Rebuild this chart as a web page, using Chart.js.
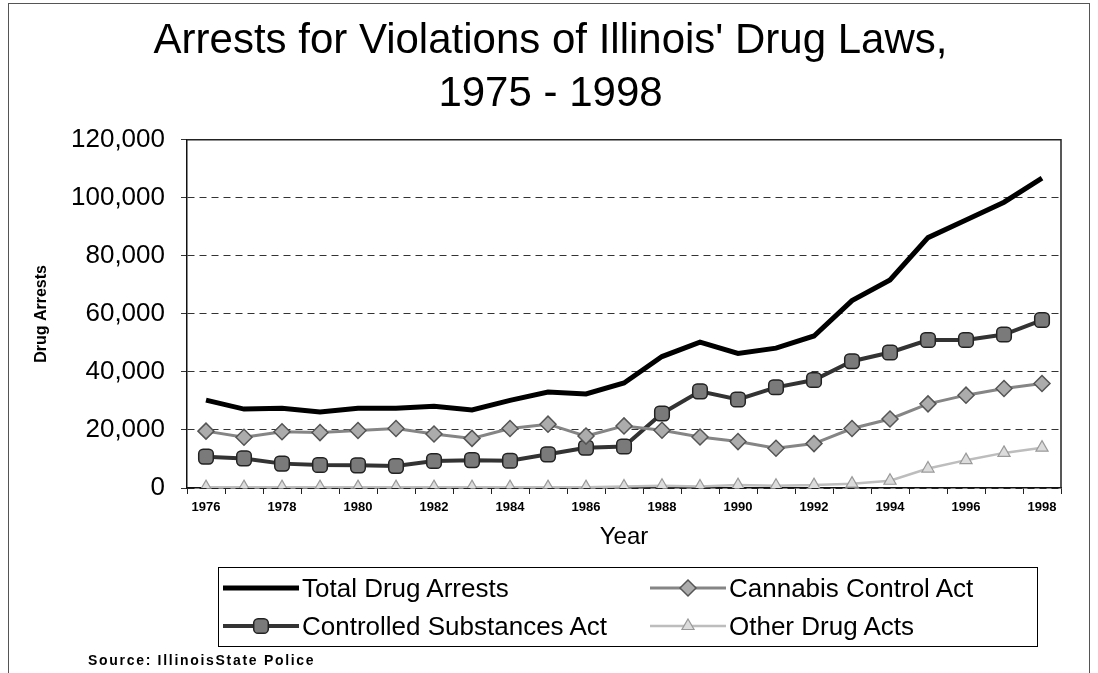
<!DOCTYPE html>
<html>
<head>
<meta charset="utf-8">
<title>Arrests for Violations of Illinois' Drug Laws</title>
<script src="https://cdn.jsdelivr.net/npm/chart.js@4.4.0/dist/chart.umd.min.js"></script>
<style>
  html, body { margin: 0; padding: 0; background: #fff; }
  body {
    width: 1098px; height: 673px; position: relative; overflow: hidden;
    font-family: "Liberation Sans", Arial, sans-serif; color: #000;
  }
  #frame {
    position: absolute; left: 8px; top: 3px; width: 1082px; height: 700px;
    border: 1px solid #555; border-bottom: none; box-sizing: border-box;
  }
  #chart { position: absolute; left: 0; top: 0; }
  #legend {
    position: absolute; left: 218px; top: 567px; width: 820px; height: 80px;
    border: 1px solid #000; box-sizing: border-box;
  }
  .item {
    position: absolute; height: 30px; display: flex; align-items: center;
    font-size: 26px; white-space: nowrap;
  }
  .item canvas { margin-right: 3px; }
  #source {
    position: absolute; left: 88px; top: 652px; font-size: 14px;
    font-weight: bold; letter-spacing: 1.7px;
  }
</style>
</head>
<body>
<div id="frame"></div>
<canvas id="chart" width="1098" height="673"></canvas>
<div id="legend"></div>
<div id="source">Source: IllinoisState Police</div>

<script>
// ========================
// DATA
// ========================
const years = ['1976', '1977', '1978', '1979', '1980', '1981', '1982', '1983',
  '1984', '1985', '1986', '1987', '1988', '1989', '1990', '1991', '1992',
  '1993', '1994', '1995', '1996', '1997', '1998'];

const totalArrests = [30300, 27200, 27500, 26200, 27500, 27500, 28200, 26900,
  30200, 33100, 32400, 36200, 45300, 50300, 46400, 48200, 52400,
  64600, 71700, 86300, 92400, 98500, 106800];

const cannabisAct = [19600, 17500, 19400, 19100, 19800, 20500, 18600, 17100,
  20500, 22000, 17900, 21400, 19900, 17600, 16000, 13700, 15300,
  20500, 23800, 29000, 32000, 34300, 36000];

const controlledAct = [10800, 10200, 8400, 7900, 7800, 7600, 9300, 9600,
  9400, 11600, 13900, 14300, 25700, 33300, 30500, 34700, 37200,
  43700, 46700, 51000, 51000, 52900, 57900];

const otherActs = [300, 300, 300, 300, 300, 300, 300, 300,
  300, 300, 300, 500, 800, 500, 1000, 800, 1000,
  1500, 2500, 6700, 9600, 12100, 13900];

const seriesNames = ['Total Drug Arrests', 'Cannabis Control Act',
  'Controlled Substances Act', 'Other Drug Acts'];

const yTicks = [0, 20000, 40000, 60000, 80000, 100000, 120000];

const FONT = '"Liberation Sans", Arial, sans-serif';

// ========================
// PLOT BORDER (top + right edges)
// ========================
const plotBorder = {
  id: 'plotBorder',
  beforeDatasetsDraw(chart) {
    const { ctx, chartArea: a } = chart;
    ctx.save();
    ctx.strokeStyle = '#222';
    ctx.lineWidth = 1.5;
    ctx.beginPath();
    ctx.moveTo(a.left, a.top);
    ctx.lineTo(a.right, a.top);
    ctx.lineTo(a.right, a.bottom);
    ctx.stroke();
    ctx.restore();
  }
};

// ========================
// CHART
// ========================
const chart = new Chart(document.getElementById('chart'), {
  type: 'line',
  data: {
    labels: years,
    datasets: [
      {
        label: seriesNames[0],
        data: totalArrests,
        borderColor: '#000',
        borderWidth: 5,
        pointRadius: 0,
        pointStyle: false
      },
      {
        label: seriesNames[1],
        data: cannabisAct,
        borderColor: '#858585',
        borderWidth: 3,
        pointStyle: 'rectRot',
        pointRadius: 8,
        pointBackgroundColor: '#acacac',
        pointBorderColor: '#555',
        pointBorderWidth: 1.5
      },
      {
        label: seriesNames[2],
        data: controlledAct,
        borderColor: '#333',
        borderWidth: 4,
        pointStyle: 'rectRounded',
        pointRadius: 8.5,
        pointBackgroundColor: '#7a7a7a',
        pointBorderColor: '#222',
        pointBorderWidth: 1.5
      },
      {
        label: seriesNames[3],
        data: otherActs,
        borderColor: '#bdbdbd',
        borderWidth: 2.5,
        pointStyle: 'triangle',
        pointRadius: 7,
        pointBackgroundColor: '#dcdcdc',
        pointBorderColor: '#9a9a9a',
        pointBorderWidth: 1.2
      }
    ]
  },
  options: {
    responsive: false,
    animation: false,
    events: [],
    // left padding only centres the title; the y axis width makes up for it
    layout: { padding: { top: 6, left: 40, right: 37, bottom: 120 } },
    plugins: {
      legend: { display: false },
      tooltip: { enabled: false },
      title: {
        display: true,
        text: ["Arrests for Violations of Illinois' Drug Laws,", '1975 - 1998'],
        color: '#000',
        font: { family: FONT, size: 42, weight: 'normal', lineHeight: 1.26 },
        padding: { top: 9, bottom: 19 }
      }
    },
    scales: {
      x: {
        type: 'category',
        offset: true,
        afterFit: s => { s.height = 65; },
        grid: {
          display: true,
          offset: true,
          drawOnChartArea: false,
          drawTicks: true,
          tickLength: 6,
          color: '#222'
        },
        border: { display: true, color: '#111', width: 1.5 },
        ticks: {
          autoSkip: false,
          maxRotation: 0,
          minRotation: 0,
          padding: 6,
          color: '#000',
          font: { family: FONT, size: 13, weight: 'bold' },
          callback: (v, i) => (i % 2 === 0 ? years[i] : '')
        },
        title: {
          display: true,
          text: 'Year',
          color: '#000',
          font: { family: FONT, size: 24 },
          padding: { top: 0, bottom: 1 }
        }
      },
      y: {
        min: yTicks[0],
        max: yTicks[yTicks.length - 1],
        afterFit: s => { s.width = 147; },
        afterBuildTicks: s => { s.ticks = yTicks.map(v => ({ value: v })); },
        grid: { color: '#333', lineWidth: 1, tickLength: 6, drawTicks: true },
        border: { display: true, color: '#111', width: 1.5, dash: [7, 5] },
        ticks: {
          padding: 16,
          color: '#000',
          font: { family: FONT, size: 26 },
          callback: v => Number(v).toLocaleString('en-US')
        },
        title: {
          display: true,
          text: 'Drug Arrests',
          color: '#000',
          font: { family: FONT, size: 16, weight: 'bold', lineHeight: 1.2 },
          padding: { top: -7.6, bottom: 0 }
        }
      }
    }
  },
  plugins: [plotBorder]
});

// ========================
// LEGEND (2 x 2 box, built from the datasets)
// ========================
function drawSample(canvas, ds) {
  const ctx = canvas.getContext('2d');
  const w = canvas.width, h = canvas.height;
  ctx.strokeStyle = ds.borderColor;
  ctx.lineWidth = ds.borderWidth;
  ctx.beginPath();
  ctx.moveTo(0, h / 2);
  ctx.lineTo(w, h / 2);
  ctx.stroke();
  if (ds.pointStyle && ds.pointRadius) {
    ctx.fillStyle = ds.pointBackgroundColor;
    ctx.strokeStyle = ds.pointBorderColor;
    ctx.lineWidth = ds.pointBorderWidth;
    Chart.helpers.drawPoint(ctx, {
      pointStyle: ds.pointStyle,
      radius: ds.pointRadius,
      rotation: 0,
      borderWidth: ds.pointBorderWidth
    }, w / 2, h / 2);
  }
}

const legendSlots = [
  { left: 4, top: 5 },     // Total
  { left: 431, top: 5 },   // Cannabis
  { left: 4, top: 43 },    // Controlled
  { left: 431, top: 43 }   // Other
];

const legendBox = document.getElementById('legend');
chart.data.datasets.forEach((ds, i) => {
  const item = document.createElement('div');
  item.className = 'item';
  item.style.left = legendSlots[i].left + 'px';
  item.style.top = legendSlots[i].top + 'px';
  const c = document.createElement('canvas');
  c.width = 76;
  c.height = 24;
  drawSample(c, ds);
  const label = document.createElement('span');
  label.textContent = ds.label;
  item.appendChild(c);
  item.appendChild(label);
  legendBox.appendChild(item);
});
</script>
</body>
</html>
